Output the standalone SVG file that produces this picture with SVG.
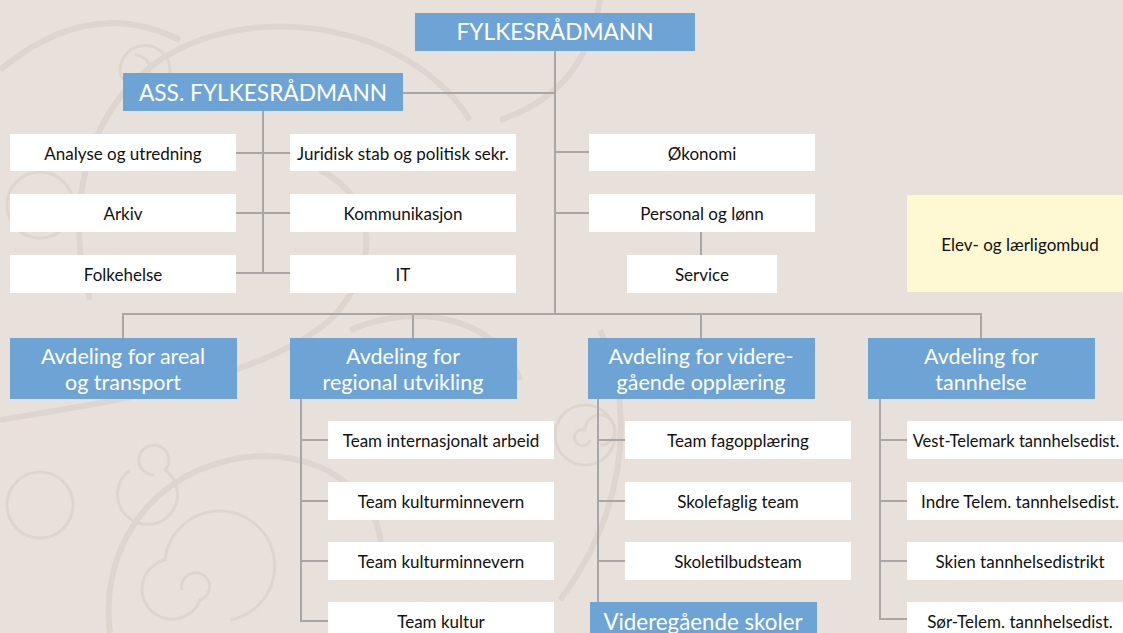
<svg xmlns="http://www.w3.org/2000/svg" width="1123" height="633" viewBox="0 0 1123 633">
<style>
.bg{fill:#e8e1db}
.sw{fill:none;stroke:#ded6ce;stroke-width:6}
.sw2{fill:none;stroke:#ded6ce;stroke-width:3}
.blue{fill:#6ea4d5}
.white{fill:#ffffff}
.yellow{fill:#fef8d3}
.ht{font-family:Lato,"Open Sans","Liberation Sans",sans-serif;fill:#ffffff;font-size:22.7px;text-anchor:middle}
.dt{font-family:Lato,"Open Sans","Liberation Sans",sans-serif;fill:#ffffff;font-size:21.5px;text-anchor:middle}
.bt{font-family:Lato,"Open Sans","Liberation Sans",sans-serif;fill:#111111;font-size:17px;text-anchor:middle}
.ln{fill:none;stroke:#a9a7a5;stroke-width:2}
</style>
<rect class="bg" x="0" y="0" width="1123" height="633"/>
<g id="background">
<path class="sw" d="M0,70 C60,20 120,10 180,40"/>
<path class="sw" d="M90,300 C60,200 90,80 200,40 C300,5 420,40 470,120"/>
<path class="sw2" d="M135,55 A15,15 0 1 1 120,70 A25,25 0 1 1 150,95"/>
<circle class="sw2" cx="40" cy="205" r="33"/>
<path class="sw" d="M0,420 C120,400 260,380 330,320 C380,270 380,200 320,170"/>
<path class="sw2" d="M155,475 A15,15 0 1 1 165,470 A30,30 0 1 1 130,470"/>
<circle class="sw2" cx="40" cy="505" r="33"/>
<path class="sw" d="M110,633 C100,560 140,480 230,460 C320,440 390,500 380,560"/>
<path class="sw2" d="M182,590 A14,14 0 1 1 200,600 A30,30 0 1 1 165,560 A55,55 0 1 1 230,620"/>
<path class="sw" d="M350,330 C420,300 500,320 520,380"/>
<path class="sw" d="M600,0 C590,60 560,100 500,120"/>
<path class="sw" d="M560,600 C620,520 640,420 600,330"/>
<circle class="sw2" cx="585" cy="435" r="30"/>
<path class="sw2" d="M590,440 A8,8 0 1 1 585,430 A15,15 0 1 1 600,445"/>
</g>
<g id="connectors">
<path class="ln" d="M555,50 V314"/>
<path class="ln" d="M402,93 H555"/>
<path class="ln" d="M555,152 H589 M555,213 H589"/>
<path class="ln" d="M701,231 V255"/>
<path class="ln" d="M263,110 V273"/>
<path class="ln" d="M236,153 H290 M236,213 H290 M236,273 H290"/>
<path class="ln" d="M123,338 V314 H981 V338"/>
<path class="ln" d="M413,314 V338 M701,314 V338"/>
<path class="ln" d="M301,398 V621 H328 M301,440 H328 M301,501 H328 M301,561 H328"/>
<path class="ln" d="M598,398 V602 M598,440 H625 M598,501 H625 M598,561 H625"/>
<path class="ln" d="M880,398 V619 H907 M880,440 H907 M880,501 H907 M880,561 H907"/>
</g>
<g id="fylkesradmann"><rect class="blue" x="415" y="13" width="280" height="38"/><text class="ht" x="555" y="40">FYLKESRÅDMANN</text></g>
<g id="ass"><rect class="blue" x="123" y="73" width="280" height="38"/><text class="ht" x="263" y="101">ASS. FYLKESRÅDMANN</text></g>
<g id="analyse"><rect class="white" x="10" y="134" width="226" height="37"/><text class="bt" x="123" y="160">Analyse og utredning</text></g>
<g id="juridisk"><rect class="white" x="290" y="134" width="226" height="37"/><text class="bt" x="403" y="160">Juridisk stab og politisk sekr.</text></g>
<g id="arkiv"><rect class="white" x="10" y="194" width="226" height="38"/><text class="bt" x="123" y="220">Arkiv</text></g>
<g id="kommunikasjon"><rect class="white" x="290" y="194" width="226" height="38"/><text class="bt" x="403" y="220">Kommunikasjon</text></g>
<g id="folkehelse"><rect class="white" x="10" y="255" width="226" height="38"/><text class="bt" x="123" y="281">Folkehelse</text></g>
<g id="it"><rect class="white" x="290" y="255" width="226" height="38"/><text class="bt" x="403" y="281">IT</text></g>
<g id="okonomi"><rect class="white" x="589" y="134" width="226" height="37"/><text class="bt" x="702" y="160">Økonomi</text></g>
<g id="personal"><rect class="white" x="589" y="194" width="226" height="38"/><text class="bt" x="702" y="220">Personal og lønn</text></g>
<g id="service"><rect class="white" x="627" y="255" width="150" height="38"/><text class="bt" x="702" y="281">Service</text></g>
<g id="ombud"><rect class="yellow" x="907" y="195" width="216" height="97"/><text class="bt" x="1020" y="251">Elev- og lærligombud</text></g>
<g id="areal"><rect class="blue" x="10" y="338" width="227" height="61"/><text class="dt" x="123" y="364">Avdeling for areal</text><text class="dt" x="123" y="390">og transport</text></g>
<g id="regional"><rect class="blue" x="290" y="338" width="227" height="61"/><text class="dt" x="403" y="364">Avdeling for</text><text class="dt" x="403" y="390">regional utvikling</text></g>
<g id="videre"><rect class="blue" x="588" y="338" width="227" height="61"/><text class="dt" x="701" y="364">Avdeling for videre-</text><text class="dt" x="701" y="390">gående opplæring</text></g>
<g id="tannhelse"><rect class="blue" x="868" y="338" width="227" height="61"/><text class="dt" x="981" y="364">Avdeling for</text><text class="dt" x="981" y="390">tannhelse</text></g>
<g id="team-int"><rect class="white" x="328" y="421" width="226" height="38"/><text class="bt" x="441" y="447">Team internasjonalt arbeid</text></g>
<g id="team-km1"><rect class="white" x="328" y="482" width="226" height="38"/><text class="bt" x="441" y="508">Team kulturminnevern</text></g>
<g id="team-km2"><rect class="white" x="328" y="542" width="226" height="38"/><text class="bt" x="441" y="568">Team kulturminnevern</text></g>
<g id="team-kultur"><rect class="white" x="328" y="602" width="226" height="38"/><text class="bt" x="441" y="628">Team kultur</text></g>
<g id="fagopplaering"><rect class="white" x="625" y="421" width="226" height="38"/><text class="bt" x="738" y="447">Team fagopplæring</text></g>
<g id="skolefaglig"><rect class="white" x="625" y="482" width="226" height="38"/><text class="bt" x="738" y="508">Skolefaglig team</text></g>
<g id="skoletilbud"><rect class="white" x="625" y="542" width="226" height="38"/><text class="bt" x="738" y="568">Skoletilbudsteam</text></g>
<g id="vgs"><rect class="blue" x="590" y="602" width="227" height="38"/><text class="dt" x="703" y="630" style="font-size:22.3px">Videregående skoler</text></g>
<g id="vest"><rect class="white" x="907" y="421" width="226" height="38"/><text class="bt" x="1016" y="447" style="font-size:16.5px">Vest-Telemark tannhelsedist.</text></g>
<g id="indre"><rect class="white" x="907" y="482" width="226" height="38"/><text class="bt" x="1020" y="508">Indre Telem. tannhelsedist.</text></g>
<g id="skien"><rect class="white" x="907" y="542" width="226" height="38"/><text class="bt" x="1020" y="568">Skien tannhelsedistrikt</text></g>
<g id="sor"><rect class="white" x="907" y="602" width="226" height="38"/><text class="bt" x="1020" y="628">Sør-Telem. tannhelsedist.</text></g>
</svg>
